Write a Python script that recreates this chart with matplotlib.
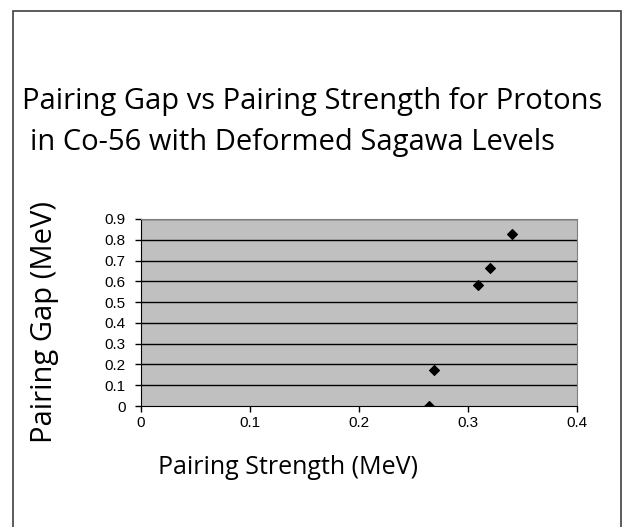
import matplotlib.pyplot as plt
from matplotlib.patches import Rectangle

# Data
strength = [0.264, 0.269, 0.309, 0.320, 0.340]
gap = [0.0, 0.173, 0.582, 0.663, 0.826]

x_ticks = [0, 0.1, 0.2, 0.3, 0.4]
x_labels = ["0", "0.1", "0.2", "0.3", "0.4"]
y_ticks = [0, 0.1, 0.2, 0.3, 0.4, 0.5, 0.6, 0.7, 0.8, 0.9]
y_labels = ["0", "0.1", "0.2", "0.3", "0.4", "0.5", "0.6", "0.7", "0.8", "0.9"]

W, H = 624, 527
fig = plt.figure(figsize=(W / 100, H / 100), dpi=100)
fig.patch.set_facecolor("white")

# outer chart border (Excel style)
fig.add_artist(Rectangle((13 / W, -0.01), (621 - 13) / W, 1 - 11 / H + 0.01,
                         transform=fig.transFigure, fill=False,
                         edgecolor="#404040", linewidth=1.2))

ax = fig.add_axes([141 / W, 1 - 406 / H, (577 - 141) / W, (406 - 219) / H])
ax.set_facecolor("#C0C0C0")
ax.set_xlim(0, 0.4)
ax.set_ylim(0, 0.9)

for y in y_ticks[1:]:
    ax.axhline(y, color="black", linewidth=1.0, zorder=1)

ax.scatter(strength, gap, marker="D", s=24, color="black", zorder=3)

ax.set_xticks(x_ticks)
ax.set_xticklabels(x_labels, fontfamily="Liberation Sans", fontsize=11)
ax.set_yticks(y_ticks)
ax.set_yticklabels(y_labels, fontfamily="Liberation Sans", fontsize=11)
ax.tick_params(direction="out", length=4, width=1, color="black")
ax.tick_params(axis="y", pad=7)
ax.tick_params(axis="x", pad=3)

for side in ["left", "bottom"]:
    ax.spines[side].set_color("black")
for side in ["top", "right"]:
    ax.spines[side].set_color("#808080")

fig.text(312 / W, 1 - 102 / H, "Pairing Gap vs Pairing Strength for Protons",
         ha="center", va="center", fontsize=21, fontfamily="Open Sans")
fig.text(292 / W, 1 - 142 / H, "in Co-56 with Deformed Sagawa Levels",
         ha="center", va="center", fontsize=21, fontfamily="Open Sans")

fig.text(45 / W, 1 - 322 / H, "Pairing Gap (MeV)", rotation=90,
         ha="center", va="center", fontsize=21, fontfamily="Open Sans")
fig.text(288 / W, 1 - 467 / H, "Pairing Strength (MeV)",
         ha="center", va="center", fontsize=18, fontfamily="Open Sans")

fig.savefig("out.png", dpi=100)
